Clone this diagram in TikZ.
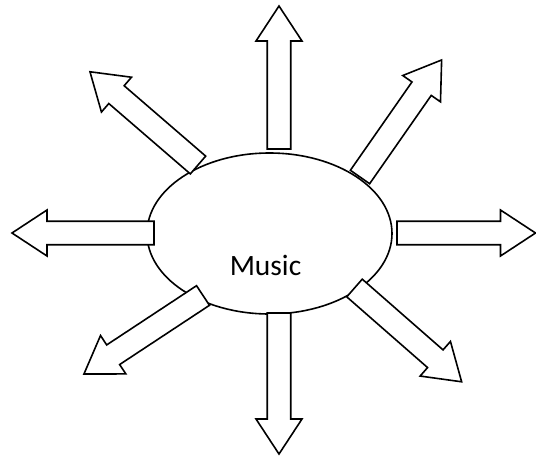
\documentclass[tikz,border=0pt]{standalone}
\usepackage{fontspec}
\setmainfont{Carlito}
\usetikzlibrary{shapes.geometric}
\tikzset{
  arrowline/.style={draw=black, fill=white, line width=1.6pt, line join=miter},
  pics/barrow/.style={code={
    \draw[arrowline] (0,-11.75) -- ({#1-35},-11.75) -- ({#1-35},-23) -- (#1,0)
      -- ({#1-35},23) -- ({#1-35},11.75) -- (0,11.75) -- cycle;
  }},
  hub/.style={draw=black, fill=white, line width=1.6pt, ellipse, inner sep=0pt,
    minimum width=245pt, minimum height=161pt},
  hublabel/.style={font=\fontsize{29.5}{32}\selectfont, inner sep=0pt, anchor=base}
}
\begin{document}
\begin{tikzpicture}[x=1pt,y=-1pt]
\useasboundingbox (0,0) rectangle (536,456);
\node[hub] (music) at (269.5,233.5) {};
\pic[rotate=90] at (279,149) {barrow=143};
\pic[rotate=-90] at (279,313) {barrow=141};
\pic[rotate=180] at (154,233) {barrow=142};
\pic[rotate=0] at (397,233) {barrow=138.5};
\pic[rotate=139.2] at (198,165) {barrow=142.7};
\pic[rotate=55.1] at (360,177) {barrow=142.7};
\pic[rotate=213.4] at (203,295.5) {barrow=142.6};
\pic[rotate=-41.2] at (354.5,288) {barrow=142.4};
\node[hublabel] (musiclabel) at (265.5,275) {Music};
\end{tikzpicture}
\end{document}
